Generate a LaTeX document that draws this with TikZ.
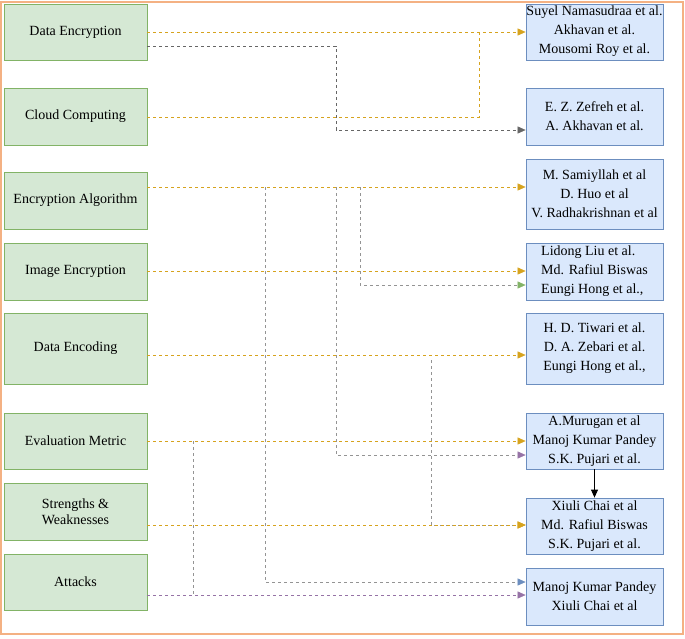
\documentclass[tikz,border=0pt]{standalone}
\usepackage{fontspec}
\setmainfont{Liberation Serif}
\usetikzlibrary{arrows.meta}
\definecolor{lg}{HTML}{D5E8D4}\definecolor{lgb}{HTML}{82B366}
\definecolor{lb}{HTML}{DAE8FC}\definecolor{lbb}{HTML}{6C8EBF}
\definecolor{orn}{HTML}{D6A31E}\definecolor{gry}{HTML}{666666}
\definecolor{pur}{HTML}{9673A6}\definecolor{grn}{HTML}{82B366}
\definecolor{blu}{HTML}{6C8EBF}\definecolor{frm}{HTML}{F4B183}
\begin{document}
\begin{tikzpicture}[x=1pt,y=-1pt,
 lbox/.style={draw=lgb,fill=lg,line width=0.8pt,minimum width=143pt,inner sep=1pt,align=center,font=\fontsize{14}{16}\selectfont},
 rbox/.style={draw=lbb,fill=lb,line width=0.8pt,minimum width=137pt,inner sep=0pt,align=center,font=\fontsize{14}{19}\selectfont},
 con/.style={dashed,line width=0.6pt},
 tip/.style={-{Triangle[length=8pt,width=7pt,color=#1]}},
 seg/.style={dashed,line width=0.6pt}]
\useasboundingbox (0,0) rectangle (685,638);
\draw[frm,line width=1.2pt] (1,2) rectangle (683,634);
% left
\node[lbox,minimum height=56pt] (l1) at (75.5,32) {Data Encryption};
\node[lbox,minimum height=57pt] (l2) at (75.5,116.5) {Cloud Computing};
\node[lbox,minimum height=57pt] (l3) at (75.5,200.5) {Encryption Algorithm};
\node[lbox,minimum height=57pt] (l4) at (75.5,271.5) {Image Encryption};
\node[lbox,minimum height=71pt] (l5) at (75.5,348.5) {Data Encoding};
\node[lbox,minimum height=56pt] (l6) at (75.5,441) {Evaluation Metric};
\node[lbox,minimum height=57pt] (l7) at (75.5,511.5) {Strengths \&\\Weaknesses};
\node[lbox,minimum height=56pt] (l8) at (75.5,582) {Attacks};
% right
\node[rbox,minimum height=56pt] (r1) at (594.5,32) {};
\node[font=\fontsize{14}{19}\selectfont,align=center,inner sep=0pt] (t1) at (594.5,31) {Suyel Namasudraa et al.\\Akhavan et al.\\Mousomi Roy et al.};
\node[rbox,minimum height=57pt] (r2) at (594.5,116.5) {E. Z. Zefreh et al.\\A. Akhavan et al.};
\node[rbox,minimum height=70pt] (r3) at (594.5,194) {M.\ Samiyllah et al\\D. Huo et al\\V. Radhakrishnan et al};
\node[rbox,minimum height=57pt,align=left] (r4) at (594.5,271.5) {Lidong Liu et al.\\Md. Rafiul Biswas\\Eungi Hong et al.,};
\node[rbox,minimum height=71pt] (r5) at (594.5,348.5) {H. D. Tiwari et al.\\D. A. Zebari et al.\\Eungi Hong et al.,};
\node[rbox,minimum height=56pt] (r6) at (594.5,441) {A.Murugan et al\\Manoj Kumar Pandey\\S.K. Pujari et al.};
\node[rbox,minimum height=56pt] (r7) at (594.5,526) {Xiuli Chai et al\\Md. Rafiul Biswas\\S.K. Pujari et al.};
\node[rbox,minimum height=57pt] (r8) at (594.5,596.5) {Manoj Kumar Pandey\\Xiuli Chai et al};
% connectors
\draw[con,orn,tip=orn] (l1.east|-0,32) -- (r1.west|-0,32);
\draw[seg,orn] (l2.east|-0,117) -- (479,117) -- (479,32);
\draw[con,gry,tip=gry] (l1.east|-0,46) -- (336,46) -- (336,130) -- (r2.west|-0,130);
\draw[con,orn,tip=orn] (l3.east|-0,187) -- (r3.west|-0,187);
\draw[con,gry!70,tip=blu] (265,187) -- (265,582) -- (r8.west|-0,582);
\draw[con,gry!70,tip=pur] (336,187) -- (336,455) -- (r6.west|-0,455);
\draw[con,gry!70,tip=grn] (360,187) -- (360,285) -- (r4.west|-0,285);
\draw[con,orn,tip=orn] (l4.east|-0,271) -- (r4.west|-0,271);
\draw[con,orn,tip=orn] (l5.east|-0,355) -- (r5.west|-0,355);
\draw[con,gry!70,tip=orn] (431,360) -- (431,525) -- (r7.west|-0,525);
\draw[con,orn,tip=orn] (l6.east|-0,441) -- (r6.west|-0,441);
\draw[seg,gry!70] (193,441) -- (193,595);
\draw[con,orn,tip=orn] (l7.east|-0,525) -- (r7.west|-0,525);
\draw[con,pur,tip=pur] (l8.east|-0,595) -- (r8.west|-0,595);
\draw[-{Triangle[length=8pt,width=7pt]},line width=0.8pt] (r6.south) -- (r7.north);
\end{tikzpicture}
\end{document}
